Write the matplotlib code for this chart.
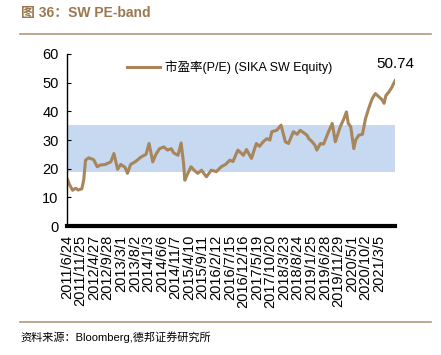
import numpy as np
import pandas as pd
import matplotlib
matplotlib.use("Agg")
import matplotlib.pyplot as plt

# weekly PE (date, value)
dates = ["2011-06-24", "2011-07-22", "2011-08-26", "2011-09-30", "2011-10-28",
         "2011-12-09", "2011-12-30", "2012-01-20", "2012-02-24", "2012-04-20",
         "2012-06-01", "2012-07-06", "2012-08-31", "2012-11-02", "2012-12-07",
         "2013-01-18", "2013-02-22", "2013-04-12", "2013-05-10", "2013-06-14",
         "2013-08-09", "2013-10-11", "2013-12-06", "2014-01-10", "2014-02-21",
         "2014-03-28", "2014-05-09", "2014-06-27", "2014-08-08", "2014-09-19",
         "2014-10-17", "2014-12-05", "2015-01-09", "2015-02-06", "2015-02-20",
         "2015-03-20", "2015-05-01", "2015-06-05", "2015-07-17", "2015-08-28",
         "2015-10-23", "2015-12-18", "2016-02-12", "2016-04-08", "2016-05-27",
         "2016-07-15", "2016-08-19", "2016-10-14", "2016-12-16", "2017-01-20",
         "2017-03-17", "2017-05-12", "2017-06-16", "2017-07-28", "2017-09-08",
         "2017-10-13", "2017-11-03", "2017-12-29", "2018-02-16", "2018-04-06",
         "2018-05-11", "2018-07-06", "2018-08-17", "2018-09-21", "2018-11-02",
         "2018-12-07", "2018-12-28", "2019-02-01", "2019-03-08", "2019-03-29",
         "2019-05-10", "2019-06-14", "2019-08-09", "2019-09-20", "2019-10-25",
         "2019-12-20", "2020-01-31", "2020-02-28", "2020-03-20", "2020-04-17",
         "2020-05-22", "2020-06-12", "2020-07-17", "2020-08-28", "2020-10-02",
         "2020-11-13", "2020-12-18", "2021-01-22", "2021-03-05", "2021-04-09",
         "2021-04-30", "2021-05-21", "2021-06-25", "2021-07-30", "2021-08-20",
         "2021-09-03"]
pe = [16.6, 14.5, 12.5, 13.2, 12.6, 13.0, 16.0, 23.0, 23.8, 23.2,
      20.7, 21.3, 21.5, 22.4, 25.3, 19.8, 21.5, 20.5, 18.4, 21.5,
      22.5, 24.1, 25.0, 28.8, 22.4, 25.0, 27.0, 27.6, 26.5, 27.0,
      25.5, 24.7, 29.0, 21.8, 16.0, 18.0, 20.7, 19.5, 18.4, 19.5,
      17.2, 19.5, 19.0, 20.7, 21.5, 23.0, 22.5, 26.5, 24.7, 26.7,
      23.6, 28.8, 27.8, 29.4, 30.5, 30.0, 32.9, 33.4, 35.2, 29.4,
      28.8, 32.9, 32.0, 33.4, 32.5, 31.7, 30.5, 29.5, 28.2, 26.5,
      28.8, 28.6, 32.9, 35.8, 29.4, 34.6, 37.5, 39.8, 35.8, 34.6,
      27.0, 30.0, 31.7, 32.0, 37.5, 41.6, 44.5, 46.2, 45.0, 44.0,
      42.8, 45.5, 46.8, 48.5, 49.9, 50.74]
band_low, band_high = 18.9, 35.4
tick_labels = ["2011/6/24", "2011/11/25", "2012/4/27", "2012/9/28", "2013/3/1",
               "2013/8/2", "2014/1/3", "2014/6/6", "2014/11/7", "2015/4/10",
               "2015/9/11", "2016/2/12", "2016/7/15", "2016/12/16", "2017/5/19",
               "2017/10/20", "2018/3/23", "2018/8/24", "2019/1/25", "2019/6/28",
               "2019/11/29", "2020/5/1", "2020/10/2", "2021/3/5"]

brown = "#a8855b"
fam = ["Liberation Sans", "Noto Sans CJK SC"]
plt.rcParams["font.family"] = fam

x = pd.to_datetime(dates)
ticks = pd.to_datetime(tick_labels, format="%Y/%m/%d")

fig = plt.figure(figsize=(4.41, 3.55), dpi=100)
ax = fig.add_axes([0.152, 0.363, 0.744, 0.485])

ax.axhspan(band_low, band_high, color="#c6d9f0", lw=0, zorder=0)
ax.plot(x, pe, color=brown, lw=2.2, label="市盈率(P/E) (SIKA SW Equity)", zorder=2)
ax.text(x[-1], 56.5, "%.2f" % pe[-1], ha="center", va="center", fontsize=11)

ax.set_xlim(x[0], x[-1])
ax.set_ylim(0, 60)
ax.set_yticks(np.arange(0, 61, 10))
ax.set_xticks(ticks)
ax.set_xticklabels(tick_labels, rotation=90, fontsize=10.5)
ax.tick_params(axis="y", direction="in", length=3, labelsize=10.5, pad=6)
ax.tick_params(axis="x", length=0, pad=6)
for s in ["top", "right"]:
    ax.spines[s].set_visible(False)
ax.spines["bottom"].set_linewidth(3)
ax.spines["left"].set_linewidth(1)

ax.legend(loc="upper left", bbox_to_anchor=(0.15, 1.03), frameon=False,
          fontsize=9, handlelength=2.6, handletextpad=0.4)

fig.text(0.047, 0.963, "图 36：SW PE-band", fontsize=10, fontweight="bold",
         color="#9c774f", va="center")
fig.add_artist(plt.Line2D([0.045, 0.977], [0.903, 0.903], color="#b5977a", lw=1.2))
fig.add_artist(plt.Line2D([0.045, 0.977], [0.092, 0.092], color="#b5977a", lw=1.2))
fig.text(0.047, 0.051, "资料来源：Bloomberg,德邦证券研究所", fontsize=8, va="center")

fig.savefig("out.png", dpi=100)
